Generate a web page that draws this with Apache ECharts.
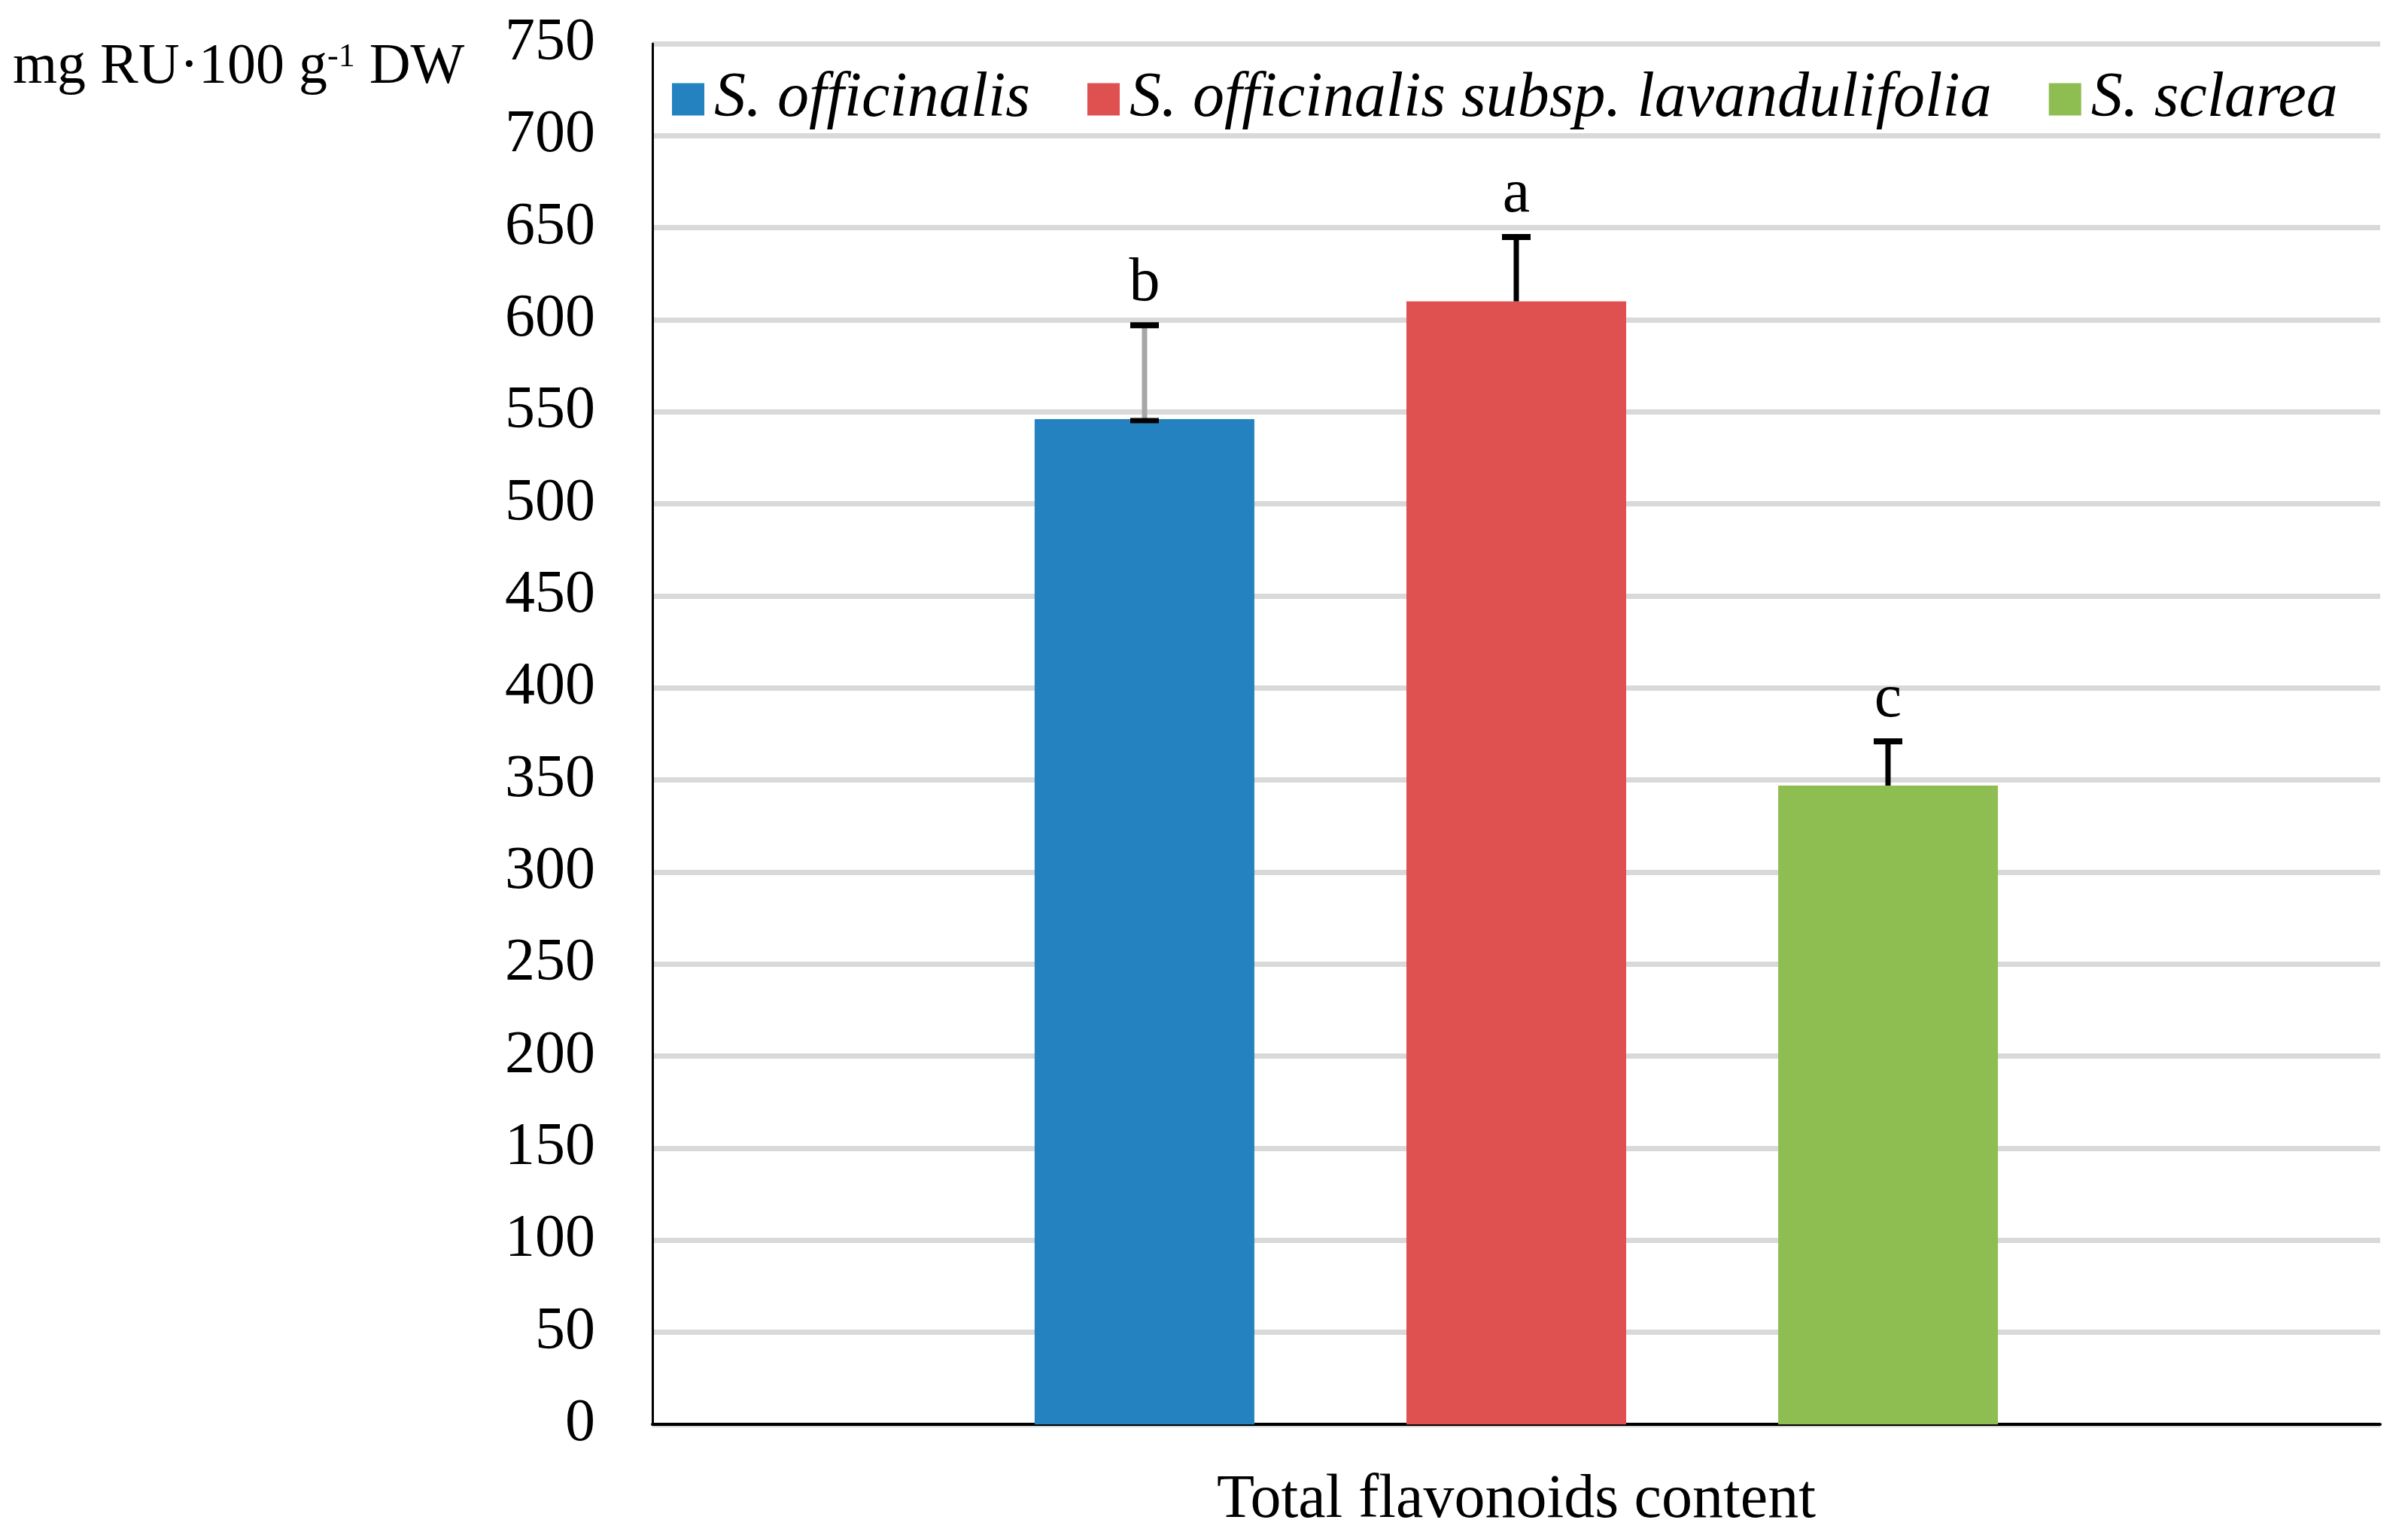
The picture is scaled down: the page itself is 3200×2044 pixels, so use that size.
<!DOCTYPE html>
<html>
<head>
<meta charset="utf-8">
<title>Total flavonoids content</title>
<script src="https://cdn.jsdelivr.net/npm/echarts@6/dist/echarts.min.js"></script>
<style>
	html, body { margin: 0; padding: 0; background: #ffffff; }
	#flavo-chart { width: 3200px; height: 2044px; }
</style>
</head>
<body>
<div id="flavo-chart"></div>
<script>
// 数据
var categories = ['Total flavonoids content'];
var species = ['S. officinalis', 'S. officinalis subsp. lavandulifolia', 'S. sclarea'];
var means = [546, 610, 347];
var errors = [51, 35, 24];
var letters = ['b', 'a', 'c'];
var yMin = 0;
var yMax = 750;
var yStep = 50;

// styles
var barColors = ['#2582c1', '#df5150', '#8ebd51'];
var stemColors = ['#a6a6a6', '#000000', '#000000'];
var lowerCap = [true, false, false];
var BAR_W = 292;
var BAR_GAP = 202;
var FONT = 'Liberation Serif';

var barSeries = species.map(function (name, i) {
	return {
		name: name,
		type: 'bar',
		barWidth: BAR_W,
		barGap: (BAR_GAP / BAR_W * 100).toFixed(1) + '%',
		itemStyle: { color: barColors[i] },
		data: [means[i]],
		z: 2
	};
});

// error bars + letters, drawn on top of the bars
var errSeries = {
	type: 'custom',
	name: 'err',
	z: 5,
	silent: true,
	data: means.map(function (m, i) { return [0, m, errors[i], i]; }),
	renderItem: function (params, api) {
		var idx = api.value(3);
		var base = api.coord([api.value(0), api.value(1)]);
		var top = api.coord([api.value(0), api.value(1) + api.value(2)]);
		var x = base[0] + (idx - 1) * (BAR_W + BAR_GAP);
		var capHalf = 19;
		var kids = [
			{ type: 'line', shape: { x1: x, y1: base[1], x2: x, y2: top[1] },
				style: { stroke: stemColors[idx], lineWidth: 7 } },
			{ type: 'line', shape: { x1: x - capHalf, y1: top[1], x2: x + capHalf, y2: top[1] },
				style: { stroke: '#000', lineWidth: 8 } },
			{ type: 'text', x: x, y: top[1] - 14,
				style: { text: letters[idx], font: '82px "Liberation Serif"', fill: '#000',
					align: 'center', verticalAlign: 'bottom' } }
		];
		if (lowerCap[idx]) {
			kids.push({ type: 'line', shape: { x1: x - capHalf, y1: base[1] + 2, x2: x + capHalf, y2: base[1] + 2 },
				style: { stroke: '#000', lineWidth: 7 } });
		}
		return { type: 'group', children: kids };
	}
};

var option_flavo = {
	animation: false,
	backgroundColor: '#ffffff',
	textStyle: { fontFamily: FONT, color: '#000' },
	grid: { left: 867, right: 37, top: 58, bottom: 151, containLabel: false },
	legend: {
		data: species,
		left: 893,
		top: 90,
		padding: 0,
		itemWidth: 43,
		itemHeight: 43,
		itemGap: 76,
		icon: 'rect',
		textStyle: { fontFamily: FONT, fontSize: 84, fontStyle: 'italic', color: '#000', padding: [0, 0, 0, 8] }
	},
	xAxis: {
		type: 'category',
		data: categories,
		axisLine: { lineStyle: { color: '#000', width: 4 } },
		axisTick: { show: false },
		axisLabel: { fontFamily: FONT, fontSize: 82, color: '#000', margin: 60 }
	},
	yAxis: {
		type: 'value',
		min: yMin,
		max: yMax,
		interval: yStep,
		axisLine: { show: true, lineStyle: { color: '#000', width: 3 } },
		axisTick: { show: false },
		axisLabel: { fontFamily: FONT, fontSize: 80, color: '#000', margin: 76 },
		splitLine: { lineStyle: { color: '#d9d9d9', width: 7 } }
	},
	graphic: [{
		type: 'text',
		left: 17,
		top: 44,
		style: {
			text: '{m|mg RU·100 g}{s|-1}{m| DW}',
			rich: {
				m: { fontFamily: FONT, fontSize: 76, fill: '#000', lineHeight: 84, verticalAlign: 'bottom' },
				s: { fontFamily: FONT, fontSize: 44, fill: '#000', lineHeight: 84, verticalAlign: 'top', padding: [10, 0, 0, 0] }
			}
		}
	}],
	series: barSeries.concat([errSeries])
};

var flavoChart = echarts.init(document.getElementById('flavo-chart'));
flavoChart.setOption(option_flavo);
</script>
</body>
</html>
